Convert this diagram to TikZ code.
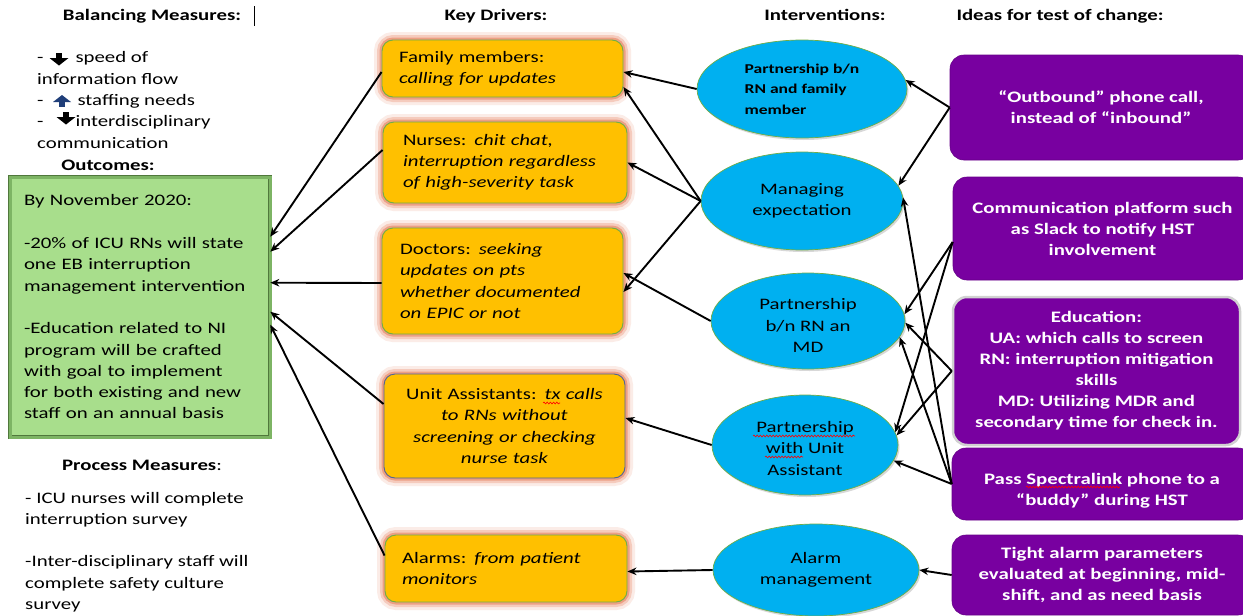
\documentclass[tikz,border=0pt]{standalone}
\usepackage{fontspec}
\setmainfont{Carlito}[FakeStretch=1.3]
\usetikzlibrary{arrows.meta,shapes.geometric,shadows,decorations.pathmorphing}

\definecolor{drvfill}{RGB}{255,192,0}
\definecolor{drvedge}{RGB}{112,173,71}
\definecolor{drvglow}{RGB}{232,130,95}
\definecolor{uaedge}{RGB}{80,100,150}
\definecolor{intfill}{RGB}{0,176,240}
\definecolor{intedge}{RGB}{112,173,71}
\definecolor{ideafill}{RGB}{120,0,160}
\definecolor{outfill}{RGB}{168,222,140}
\definecolor{outband}{RGB}{125,180,100}
\definecolor{outdark}{RGB}{80,120,60}
\definecolor{upblue}{RGB}{31,62,121}

\tikzset{
  dnglyph/.pic={\fill (-3.4,-6) rectangle (3.4,-1); \fill (-9.5,-1) -- (9.5,-1) -- (0,6.5) -- cycle;},
  upglyph/.pic={\fill (-9,1) -- (9,1) -- (0,-6) -- cycle; \fill (-3.2,1) rectangle (3.2,6);}
}

\begin{document}
\begin{tikzpicture}[x=1pt,y=-1pt,
  font=\fontsize{16}{21.3}\selectfont,
  link/.style={-{Stealth[length=9pt,width=7.5pt]}, line width=1.9pt, draw=black},
  driver/.style={rectangle, rounded corners=11pt, draw=drvedge, line width=0.9pt, fill=drvfill, align=left,
     preaction={draw=drvglow, line width=16pt, opacity=0.15},
     preaction={draw=drvglow, line width=10pt, opacity=0.3},
     preaction={draw=drvglow, line width=5pt, opacity=0.6}},
  interv/.style={ellipse, draw=intedge, line width=0.7pt, fill=intfill, inner sep=0pt, align=center,
     drop shadow={shadow xshift=1.5pt, shadow yshift=-2pt, opacity=0.3}},
  idea/.style={rectangle, rounded corners=14pt, fill=ideafill, draw=ideafill!85!black, line width=0.6pt,
     text=white, font=\fontsize{16}{21}\selectfont\bfseries, align=center, inner sep=0pt},
  header/.style={font=\fontsize{16}{20}\selectfont\bfseries, anchor=base, inner sep=0pt},
  bodytext/.style={align=left, inner sep=0pt, anchor=west},
  spell/.style={draw=red, line width=0.6pt, decorate, decoration={snake, amplitude=0.9pt, segment length=3.2pt}},
]
\fill[white] (0,0) rectangle (1243,616);
\useasboundingbox (0,0) rectangle (1243,616);

% column headings
\node[header] (hbal) at (152,20) {Balancing Measures:};
\draw[line width=0.9pt] (254,6) -- (254,26);
\node[header] (hkey) at (496,20) {Key Drivers:};
\node[header] (hint) at (825,20) {Interventions:};
\node[header] (hidea) at (1060,20) {Ideas for test of change:};

% balancing measures
\node[bodytext] (bal) at (37,100) {-\hspace{32pt}speed of\\information flow\\-\hspace{34pt}staffing needs\\-\hspace{32pt}interdisciplinary\\communication};
\pic at (59,59) {dnglyph};
\pic[color=upblue] at (62,101) {upglyph};
\pic at (66,118) {dnglyph};

% outcomes
\node[header] (hout) at (108,170) {Outcomes:};
\node[rectangle, fill=outfill, draw=outdark, double=outband, double distance=3pt, line width=0.6pt,
      text width=232pt, inner xsep=14pt, minimum height=260pt, align=left] (out) at (140,307)
  {By November 2020:\\[21.3pt]-20\% of ICU RNs will state\\one EB interruption\\management intervention\\[21.3pt]-Education related to NI\\program will be crafted\\with goal to implement\\for both existing and new\\staff on an annual basis};

% process measures
\node[header] (hproc) at (142,470) {Process Measures\mdseries:};
\node[bodytext] (proc) at (25,552) {- ICU nurses will complete\\interruption survey\\[21.3pt]-Inter-disciplinary staff will\\complete safety culture\\survey};

% key drivers
\node[driver, text width=207pt, inner xsep=17pt, minimum height=57pt] (fam) at (502.5,68.5)
  {Family members:\\\textit{calling for updates}};
\node[driver, text width=204pt, inner xsep=20pt, minimum height=81pt] (nur) at (505,162.5)
  {Nurses: \textit{chit chat,}\\\textit{interruption regardless}\\\textit{of high-severity task}};
\node[driver, text width=205pt, inner xsep=18pt, minimum height=106pt] (doc) at (502.5,281)
  {Doctors: \textit{seeking}\\\textit{updates on pts}\\\textit{whether documented}\\\textit{on EPIC or not}};
\node[driver, draw=uaedge, align=center, text width=221pt, inner xsep=10pt, minimum height=104pt] (uab) at (504.5,426)
  {Unit Assistants: \textit{tx calls}\\\textit{to RNs without}\\\textit{screening or checking}\\\textit{nurse task}};
\node[driver, text width=208pt, inner xsep=17pt, minimum height=67pt] (al) at (506,568.5)
  {Alarms: \textit{from patient}\\\textit{monitors}};

% interventions
\node[interv, align=left, minimum width=210pt, minimum height=98pt, font=\fontsize{13.5}{20.5}\selectfont\bfseries] (e1) at (802,89)
  {Partnership b/n\\RN and family\\member};
\node[interv, minimum width=202pt, minimum height=98pt] (e2) at (802,201) {Managing\\expectation};
\node[interv, minimum width=194pt, minimum height=96pt] (e3) at (808,321) {\rule{0pt}{20pt}Partnership\\b/n RN an\\MD};
\node[interv, minimum width=186pt, minimum height=100pt] (e4) at (805,445) {\rule{0pt}{18pt}Partnership\\with Unit\\Assistant};
\node[interv, minimum width=206pt, minimum height=92pt] (e5) at (816,570) {Alarm\\management};

% ideas for test of change
\node[idea, minimum width=302pt, minimum height=105pt] (i1) at (1101,107.5)
  {“Outbound” phone call,\\instead of “inbound”};
\node[idea, minimum width=299pt, minimum height=103pt] (i2) at (1102.5,228.5)
  {Communication platform such\\as Slack to notify HST\\involvement};
\node[idea, draw=black!18, line width=2.5pt, minimum width=287pt, minimum height=148pt] (i3) at (1096.5,371)
  {Education:\\UA: which calls to screen\\RN: interruption mitigation\\skills\\MD: Utilizing MDR and\\secondary time for check in.};
\node[idea, minimum width=300pt, minimum height=72pt] (i4) at (1102,484)
  {\rule{0pt}{24pt}Pass Spectralink phone to a\\“buddy” during HST};
\node[idea, minimum width=300pt, minimum height=80pt] (i5) at (1102,575)
  {Tight alarm parameters\\evaluated at beginning, mid-\\shift, and as need basis};

% spell-check wavy underlines
\draw[spell] (543,403) -- (560,403);
\draw[spell] (753,436) -- (855,436);
\draw[spell] (765,457) -- (803,457);
\draw[spell] (1026,487) -- (1120,487);

% drivers -> outcomes
\draw[link] ([yshift=-3.5pt]fam.west) -- ([yshift=-60pt]out.north east);
\draw[link] ([yshift=12.5pt]nur.west) -- ([yshift=-75pt]out.north east);
\draw[link] ([yshift=-2pt]doc.west) -- ([yshift=-106pt]out.north east);
\draw[link] ([yshift=22pt]uab.west) -- ([yshift=-135pt]out.north east);
\draw[link] ([yshift=13pt]al.west) -- ([yshift=-148pt]out.north east);

% interventions -> drivers
\draw[link] (e1.west) -- ([yshift=-3.5pt]fam.east);
\draw[link] (e2.west) -- ([yshift=-18.5pt]fam.east);
\draw[link] (e2.west) -- (nur.east);
\draw[link] (e2.west) -- ([yshift=-11pt]doc.east);
\draw[link] (e3.west) -- ([yshift=8pt]doc.east);
\draw[link] (e4.west) -- ([yshift=8pt]uab.east);
\draw[link] (e5.west) -- ([yshift=-3pt]al.east);

% ideas -> interventions
\draw[link] (i1.west) -- (e1.5);
\draw[link] (i1.west) -- (e2.9);
\draw[link] ([yshift=-13.5pt]i2.west) -- (e3.4);
\draw[link] ([yshift=-13.5pt]i2.west) -- (e4.8);
\draw[link] (i3.west) -- (e3.-1);
\draw[link] (i3.west) -- (e4.6);
\draw[link] (i4.west) -- (e2.2);
\draw[link] (i4.west) -- (e3.-10);
\draw[link] (i4.west) -- (e4.-10);
\draw[link] (i5.west) -- (e5.east);
\end{tikzpicture}
\end{document}
